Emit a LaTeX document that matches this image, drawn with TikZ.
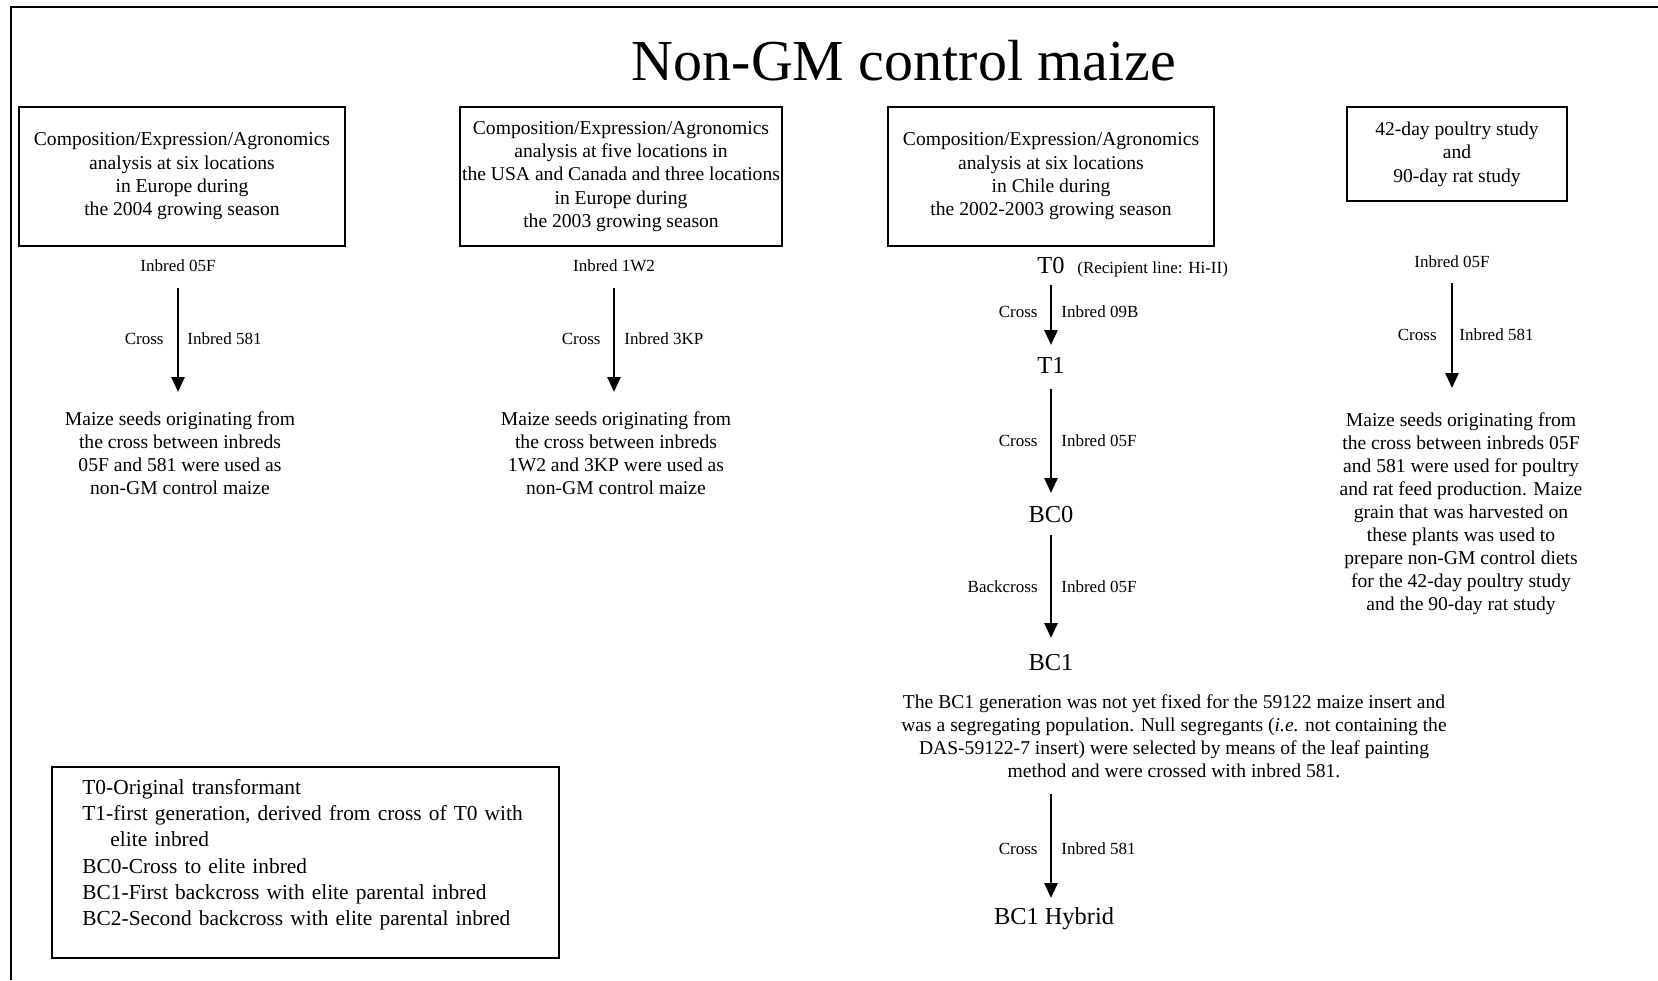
\documentclass[tikz,border=0pt]{standalone}
\usepackage{fontspec}
\setmainfont{Liberation Serif}
\usetikzlibrary{arrows.meta}

\begin{document}
\begin{tikzpicture}[x=0.5pt,y=-0.5pt,
	box/.style={draw,line width=0.75pt,align=center,inner sep=1pt,font=\fontsize{9.8}{11.7}\selectfont},
	txt/.style={align=center,inner sep=0pt,font=\fontsize{9.8}{11.5}\selectfont},
	lbl/.style={inner sep=0pt,font=\fontsize{8.5}{10}\selectfont},
	gen/.style={inner sep=0pt,font=\fontsize{12.2}{14}\selectfont},
	cross/.style={-{Triangle[length=7.5pt,width=6.5pt]},line width=1.4pt}]
	\useasboundingbox (0,0) rectangle (1658,980);
	%\draw[help lines,step=50] (0,0) grid (1658,980);
	\draw[line width=1pt] (10.5,980) -- (10.5,6.5) -- (1658,6.5);
	
	\node[font=\fontsize{29}{34}\selectfont] (title) at (904,61) {Non-GM control maize};
	
	\node[box,minimum width=163pt,minimum height=69.5pt] (eu04) at (182,176.5) {Composition/Expression/Agronomics\\analysis at six locations\\in Europe during\\the 2004 growing season};
	\node[box,minimum width=161pt,minimum height=69.5pt] (us03) at (621,176.5) {Composition/Expression/Agronomics\\analysis at five locations in\\the USA and Canada and three locations\\in Europe during\\the 2003 growing season};
	\node[box,minimum width=163pt,minimum height=69.5pt] (cl02) at (1051,176.5) {Composition/Expression/Agronomics\\analysis at six locations\\in Chile during\\the 2002-2003 growing season};
	\node[box,minimum width=110pt,minimum height=47pt] (feed) at (1457,154) {42-day poultry study\\and\\90-day rat study};
	
	% Europe 2004
	\node[lbl] (in1) at (178,266) {Inbred 05F};
	\node[txt] (seed1) at (180,453) {Maize seeds originating from\\the cross between inbreds\\05F and 581 were used as\\non-GM control maize};
	\draw[cross,shorten <=11pt,shorten >=30.5pt] (in1.center) -- (in1.center |- seed1.center);
	\node[lbl,anchor=east] (x1) at (164,339) {Cross};
	\node[lbl,anchor=west] (p1) at (187,339) {Inbred 581};
	
	% USA/Canada 2003
	\node[lbl] (in2) at (614,266) {Inbred 1W2};
	\node[txt] (seed2) at (616,453) {Maize seeds originating from\\the cross between inbreds\\1W2 and 3KP were used as\\non-GM control maize};
	\draw[cross,shorten <=11pt,shorten >=30.5pt] (in2.center) -- (in2.center |- seed2.center);
	\node[lbl,anchor=east] (x2) at (601,339) {Cross};
	\node[lbl,anchor=west] (p2) at (624,339) {Inbred 3KP};
	
	% Chile 2002-2003
	\node[gen] (T0) at (1051,265) {T0};
	\node[lbl,anchor=base west] (recip) at ([xshift=6pt]T0.base east) {(Recipient line: Hi-II)};
	\node[gen] (T1) at (1051,365) {T1};
	\node[gen] (BC0) at (1051,514.5) {BC0};
	\node[gen] (BC1) at (1051,663) {BC1};
	\node[txt] (null) at (1174,736.5) {The BC1 generation was not yet fixed for the 59122 maize insert and\\was a segregating population. Null segregants (\textit{i.e.} not containing the\\DAS-59122-7 insert) were selected by means of the leaf painting\\method and were crossed with inbred 581.};
	\node[gen] (hybrid) at (1054,919) {BC1 Hybrid};
	\draw[cross,shorten <=10pt,shorten >=10pt] (T0.center) -- (T1.center);
	\draw[cross,shorten <=12pt,shorten >=10.75pt] (T1.center) -- (BC0.center);
	\draw[cross,shorten <=10.25pt,shorten >=12.5pt] (BC0.center) -- (BC1.center);
	\draw[cross,shorten <=65.5pt,shorten >=10.5pt] (BC1.center) -- (BC1.center |- hybrid.center);
	\node[lbl,anchor=east] (x3) at (1038,312) {Cross};
	\node[lbl,anchor=west] (p3) at (1061,312) {Inbred 09B};
	\node[lbl,anchor=east] (x4) at (1038,441) {Cross};
	\node[lbl,anchor=west] (p4) at (1061,441) {Inbred 05F};
	\node[lbl,anchor=east] (x5) at (1038,587) {Backcross};
	\node[lbl,anchor=west] (p5) at (1061,587) {Inbred 05F};
	\node[lbl,anchor=east] (x6) at (1038,849) {Cross};
	\node[lbl,anchor=west] (p6) at (1061,849) {Inbred 581};
	
	% poultry and rat studies
	\node[lbl] (in4) at (1452,262) {Inbred 05F};
	\node[txt] (seed4) at (1461,513.5) {Maize seeds originating from\\the cross between inbreds 05F\\and 581 were used for poultry\\and rat feed production. Maize\\grain that was harvested on\\these plants was used to\\prepare non-GM control diets\\for the 42-day poultry study\\and the 90-day rat study};
	\draw[cross,shorten <=10.5pt,shorten >=62.75pt] (in4.center) -- (in4.center |- seed4.center);
	\node[lbl,anchor=east] (x7) at (1437,335) {Cross};
	\node[lbl,anchor=west] (p7) at (1459,335) {Inbred 581};
	
	% key
	\node[draw,line width=0.75pt,inner sep=0pt,minimum width=253.5pt,minimum height=95.5pt,anchor=north west] (keybox) at (51,766) {};
	\node[inner sep=0pt,text width=230pt,align=left,anchor=north west,font=\fontsize{10.7}{13.1}\selectfont] (key) at (82,779) {T0-Original transformant\\T1-first generation, derived from cross of T0 with\\\hspace*{14pt}elite inbred\\BC0-Cross to elite inbred\\BC1-First backcross with elite parental inbred\\BC2-Second backcross with elite parental inbred};
\end{tikzpicture}
\end{document}
